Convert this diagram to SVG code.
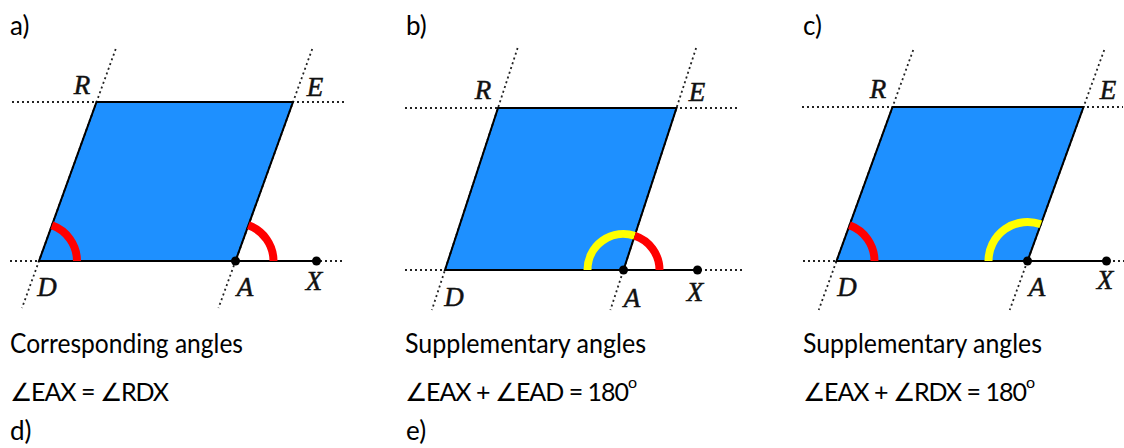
<svg xmlns="http://www.w3.org/2000/svg" width="1124" height="448" viewBox="0 0 1124 448">
<style>
.cap{font-family:Lato,"Liberation Sans",sans-serif;font-size:26px;fill:#000}
.eq{font-family:Lato,"Liberation Sans",sans-serif;font-size:25px;letter-spacing:-1px;fill:#000}
.sup{font-family:Lato,"Liberation Sans",sans-serif;font-size:16px;fill:#000}
.lbl{font-family:"Liberation Serif",serif;font-style:italic;font-size:27px;fill:#111;stroke:#111;stroke-width:0.5;text-anchor:middle}
.dot{stroke:#222;stroke-width:1.8;stroke-dasharray:2 3;fill:none}
.fig{fill:#1E90FF;stroke:none}
.edge{stroke:#000;stroke-width:2;fill:none}
.red{stroke:#FF0000;stroke-width:8;fill:none}
.yel{stroke:#FFFF00;stroke-width:8;fill:none}
.pt{fill:#000}
</style>
<rect width="1124" height="448" fill="#fff"/>

<g id="panel-a">
  <text class="cap" x="10" y="35">a)</text>
  <polygon class="fig" points="39,261 235.5,261 293,102 96.5,102"/>
  <g id="a-connectors">
    <line class="dot" x1="12" y1="102" x2="345" y2="102"/>
    <line class="dot" x1="10" y1="261" x2="343" y2="261"/>
    <line class="dot" x1="115.7" y1="49" x2="22" y2="308"/>
    <line class="dot" x1="312.2" y1="49" x2="218.5" y2="308"/>
    <polygon class="edge" points="39,261 235.5,261 293,102 96.5,102"/>
    <line class="edge" x1="235.5" y1="261" x2="316.5" y2="261"/>
    <path class="red" d="M77 261 A38 38 0 0 0 51.9 225.3"/>
    <path class="red" d="M273.5 261 A38 38 0 0 0 248.4 225.3"/>
  </g>
  <circle class="pt" cx="235.5" cy="261" r="4.5"/>
  <circle class="pt" cx="316.5" cy="261" r="4.5"/>
  <text class="lbl" x="82" y="94">R</text>
  <text class="lbl" x="315" y="96">E</text>
  <text class="lbl" x="47" y="296">D</text>
  <text class="lbl" x="245" y="296">A</text>
  <text class="lbl" x="314" y="290">X</text>
  <text class="cap" x="10" y="353" textLength="233" lengthAdjust="spacingAndGlyphs">Corresponding angles</text>
  <text class="eq" x="10" y="401">∠EAX = ∠RDX</text>
</g>

<g id="panel-b">
  <text class="cap" x="406" y="35">b)</text>
  <polygon class="fig" points="445,270 623.5,270 676.5,108 498,108"/>
  <g id="b-connectors">
    <line class="dot" x1="405" y1="108" x2="740" y2="108"/>
    <line class="dot" x1="405" y1="270" x2="742" y2="270"/>
    <line class="dot" x1="517.6" y1="48" x2="431.9" y2="310"/>
    <line class="dot" x1="696.1" y1="48" x2="610.4" y2="310"/>
    <polygon class="edge" points="445,270 623.5,270 676.5,108 498,108"/>
    <line class="edge" x1="623.5" y1="270" x2="697.5" y2="270"/>
    <path class="yel" d="M587.5 270 A36 36 0 0 1 634.7 235.8"/>
    <path class="red" d="M634.7 235.8 A36 36 0 0 1 659.5 270"/>
  </g>
  <circle class="pt" cx="623.5" cy="270" r="4.5"/>
  <circle class="pt" cx="697.5" cy="270" r="4.5"/>
  <text class="lbl" x="483" y="99">R</text>
  <text class="lbl" x="697" y="101">E</text>
  <text class="lbl" x="454" y="306">D</text>
  <text class="lbl" x="632" y="307">A</text>
  <text class="lbl" x="695" y="301">X</text>
  <text class="cap" x="405" y="353" textLength="241" lengthAdjust="spacingAndGlyphs">Supplementary angles</text>
  <text class="eq" x="405" y="401">∠EAX + ∠EAD = 180</text>
  <text class="sup" x="628" y="388">o</text>
</g>

<g id="panel-c">
  <text class="cap" x="803" y="35">c)</text>
  <polygon class="fig" points="836.5,261 1027.5,261 1083.5,107 892.5,107"/>
  <g id="c-connectors">
    <line class="dot" x1="802" y1="107" x2="1123" y2="107"/>
    <line class="dot" x1="803" y1="261" x2="1124" y2="261"/>
    <line class="dot" x1="913.2" y1="50" x2="818.7" y2="310"/>
    <line class="dot" x1="1104.2" y1="50" x2="1009.7" y2="310"/>
    <polygon class="edge" points="836.5,261 1027.5,261 1083.5,107 892.5,107"/>
    <line class="edge" x1="1027.5" y1="261" x2="1106.5" y2="261"/>
    <path class="red" d="M874.5 261 A38 38 0 0 0 849.5 225.3"/>
    <path class="yel" d="M988.5 261 A39 39 0 0 1 1040.8 224.3"/>
  </g>
  <circle class="pt" cx="1027.5" cy="261" r="4.5"/>
  <circle class="pt" cx="1106.5" cy="261" r="4.5"/>
  <text class="lbl" x="878" y="98">R</text>
  <text class="lbl" x="1108" y="99">E</text>
  <text class="lbl" x="847" y="296">D</text>
  <text class="lbl" x="1037" y="296">A</text>
  <text class="lbl" x="1105" y="289">X</text>
  <text class="cap" x="803" y="353" textLength="239" lengthAdjust="spacingAndGlyphs">Supplementary angles</text>
  <text class="eq" x="803" y="401">∠EAX + ∠RDX = 180</text>
  <text class="sup" x="1026" y="388">o</text>
</g>

<g id="panel-d">
  <text class="cap" x="10" y="440">d)</text>
</g>
<g id="panel-e">
  <text class="cap" x="406" y="440">e)</text>
</g>
</svg>
